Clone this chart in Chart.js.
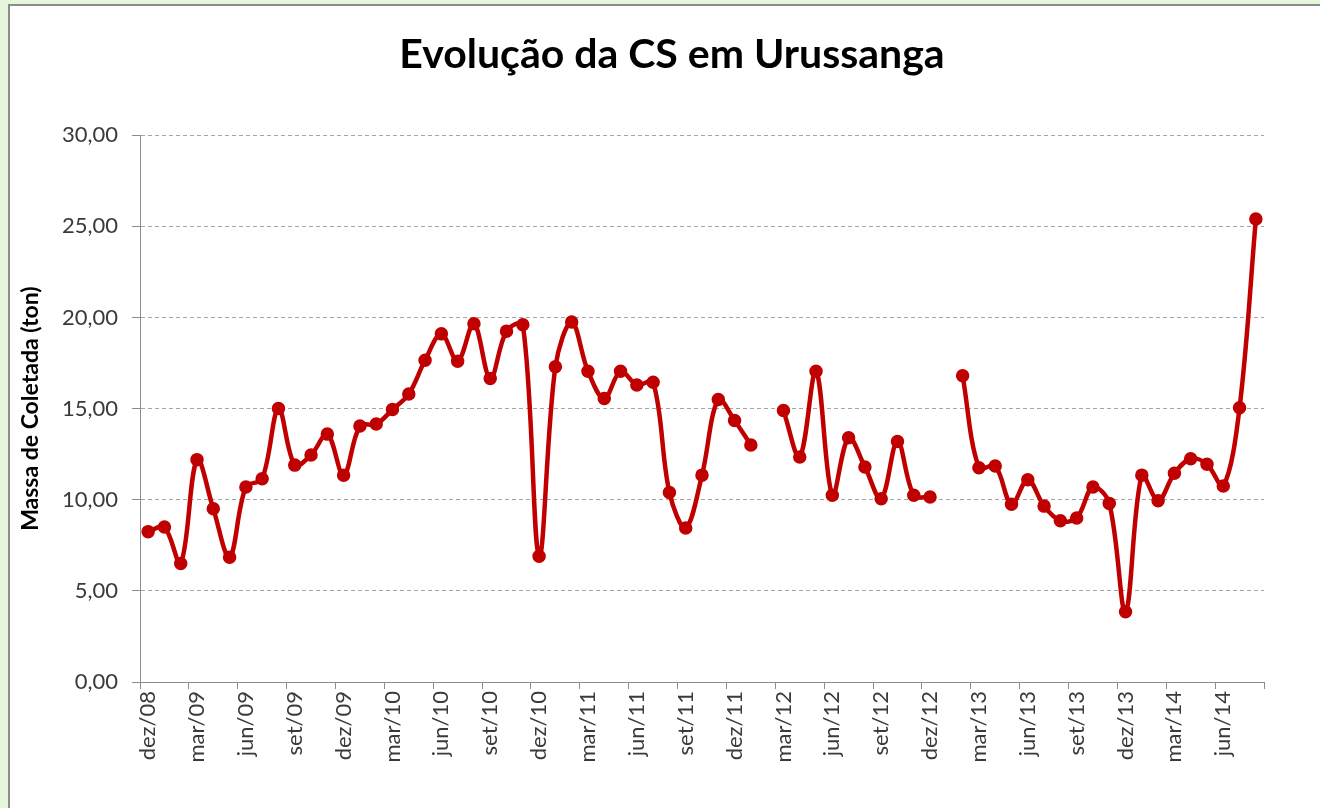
<!DOCTYPE html>
<html>
<head>
<meta charset="utf-8">
<title>Evolução da CS em Urussanga</title>
<script src="https://cdn.jsdelivr.net/npm/chart.js@4.4.0/dist/chart.umd.min.js"></script>
<style>
  html, body { margin: 0; padding: 0; background: #e6f6da; overflow: hidden; }
  #box {
    position: absolute; left: 8px; top: 4px; width: 1312px; height: 806px;
    background: #fff; border-top: 2px solid #8c8c8c; border-left: 2px solid #8c8c8c;
  }
  canvas { display: block; }
</style>
</head>
<body>
<div id="box"><canvas id="csChart" width="1310" height="802"></canvas></div>
<script>
// months (one category per month, dez/08 .. ago/14)
const months = [
  'dez/08',
  'jan/09', 'fev/09', 'mar/09', 'abr/09', 'mai/09', 'jun/09', 'jul/09', 'ago/09', 'set/09', 'out/09', 'nov/09', 'dez/09',
  'jan/10', 'fev/10', 'mar/10', 'abr/10', 'mai/10', 'jun/10', 'jul/10', 'ago/10', 'set/10', 'out/10', 'nov/10', 'dez/10',
  'jan/11', 'fev/11', 'mar/11', 'abr/11', 'mai/11', 'jun/11', 'jul/11', 'ago/11', 'set/11', 'out/11', 'nov/11', 'dez/11',
  'jan/12', 'fev/12', 'mar/12', 'abr/12', 'mai/12', 'jun/12', 'jul/12', 'ago/12', 'set/12', 'out/12', 'nov/12', 'dez/12',
  'jan/13', 'fev/13', 'mar/13', 'abr/13', 'mai/13', 'jun/13', 'jul/13', 'ago/13', 'set/13', 'out/13', 'nov/13', 'dez/13',
  'jan/14', 'fev/14', 'mar/14', 'abr/14', 'mai/14', 'jun/14', 'jul/14', 'ago/14'
];

// massa coletada (ton), null = no data that month
const massa = [
  8.25,
  8.5, 6.5, 12.2, 9.5, 6.85, 10.7, 11.15, 15.0, 11.9, 12.45, 13.6, 11.35,
  14.05, 14.15, 14.95, 15.8, 17.65, 19.1, 17.6, 19.65, 16.65, 19.25, 19.6, 6.9,
  17.3, 19.75, 17.05, 15.55, 17.05, 16.3, 16.45, 10.4, 8.45, 11.35, 15.5, 14.35,
  13.0, null, 14.9, 12.35, 17.05, 10.25, 13.4, 11.8, 10.05, 13.2, 10.25, 10.15,
  null, 16.8, 11.75, 11.85, 9.75, 11.1, 9.65, 8.85, 9.0, 10.7, 9.8, 3.85,
  11.35, 9.95, 11.45, 12.25, 11.95, 10.75, 15.05, 25.4
];

const yMin = 0;
const yMax = 30;
const yStep = 5;
const labelEvery = 3; // a label and tick mark every 3 months

const axisGray = '#8c8c8c';
const textGray = '#3a3a3a';

// only every 3rd category gets a tick mark (plus the closing one at the right end)
const xTickColor = ctx => (ctx.type !== 'tick' || ctx.index % labelEvery === 0) ? axisGray : 'rgba(0,0,0,0)';

new Chart(document.getElementById('csChart').getContext('2d'), {
  type: 'line',
  data: {
    labels: months,
    datasets: [{
      label: 'Massa de Coletada (ton)',
      data: massa,
      borderColor: '#c00000',
      backgroundColor: '#c00000',
      borderWidth: 4.5,
      pointRadius: 6,
      pointBorderWidth: 1.5,
      pointBorderColor: '#c00000',
      pointBackgroundColor: '#c00000',
      tension: 0.35,
      spanGaps: false,
      fill: false
    }]
  },
  options: {
    responsive: false,
    animation: false,
    layout: { padding: { left: 14, right: 0, top: 0, bottom: 0 } },
    plugins: {
      legend: { display: false },
      tooltip: { enabled: false },
      title: {
        display: true,
        text: 'Evolução da CS em Urussanga',
        color: '#000',
        font: { family: 'Lato', size: 41, weight: 'bold' },
        padding: { top: 24, bottom: 56 }
      }
    },
    scales: {
      x: {
        offset: true,
        grid: {
          offset: true,
          drawOnChartArea: false,
          drawTicks: true,
          tickLength: 7,
          color: xTickColor,
          tickColor: xTickColor
        },
        border: { color: axisGray, width: 1 },
        ticks: {
          autoSkip: false,
          maxRotation: 90,
          minRotation: 90,
          padding: 2,
          color: textGray,
          font: { family: 'Lato', size: 22 },
          callback: function (value, index) {
            return index % labelEvery === 0 ? this.getLabelForValue(value) : '';
          }
        },
        afterFit: scale => { scale.height = 126; }
      },
      y: {
        min: yMin,
        max: yMax,
        ticks: {
          stepSize: yStep,
          padding: 14,
          color: textGray,
          font: { family: 'Lato', size: 22 },
          callback: v => v.toFixed(2).replace('.', ',')
        },
        grid: {
          color: '#a6a6a6',
          lineWidth: 1,
          drawTicks: true,
          tickLength: 8,
          tickColor: axisGray
        },
        border: { display: true, color: axisGray, width: 1, dash: [4, 3] },
        title: {
          display: true,
          text: 'Massa de Coletada (ton)',
          color: '#000',
          font: { family: 'Lato', size: 23, weight: 'bold' },
          padding: { top: -7, bottom: 0 }
        },
        afterFit: scale => { scale.width = 116; }
      },
      // empty right-hand axis that only reserves the white margin right of the plot
      yRight: {
        position: 'right',
        display: true,
        grid: { display: false, drawTicks: false },
        border: { display: false },
        ticks: { display: false },
        afterFit: scale => { scale.width = 56; }
      }
    }
  }
});
</script>
</body>
</html>
